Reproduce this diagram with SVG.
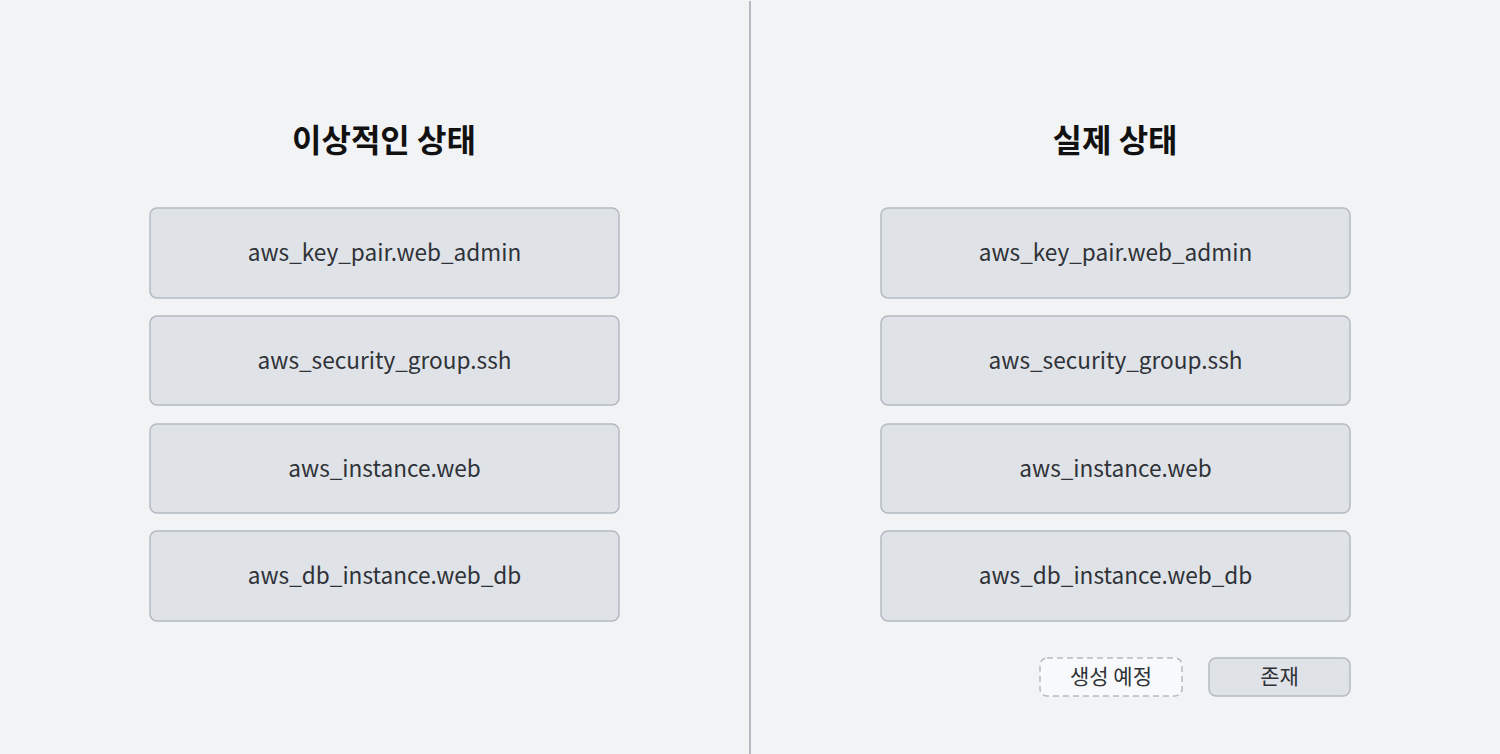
<svg xmlns="http://www.w3.org/2000/svg" width="1500" height="754" viewBox="0 0 1500 754">
<style>
.bg{fill:#f2f3f5}
.node rect{fill:#dfe2e7;stroke:#b3bac2;stroke-width:1.5}
.lbl{font-family:"Noto Sans CJK KR","Noto Sans",sans-serif;font-size:22.6px;fill:#2f3237;text-anchor:middle;dominant-baseline:central}
.title{font-family:"Noto Sans CJK KR",sans-serif;font-size:32px;font-weight:bold;fill:#111;text-anchor:middle}
.leg{font-family:"Noto Sans CJK KR",sans-serif;font-size:21px;fill:#2f3237;text-anchor:middle;dominant-baseline:central}
</style>
<rect class="bg" x="0" y="0" width="1500" height="754"/>
<g id="connectors">
<line x1="750" y1="1" x2="750" y2="754" stroke="#b3bac2" stroke-width="2"/>
</g>
<text class="title" x="384" y="152">이상적인 상태</text>
<text class="title" x="1115" y="152">실제 상태</text>
<g id="l1" class="node"><rect x="150" y="208" width="469" height="90" rx="7"/><text class="lbl" x="384.5" y="251">aws_key_pair.web_admin</text></g>
<g id="l2" class="node"><rect x="150" y="316" width="469" height="89" rx="7"/><text class="lbl" x="384.5" y="359">aws_security_group.ssh</text></g>
<g id="l3" class="node"><rect x="150" y="424" width="469" height="89" rx="7"/><text class="lbl" x="384.5" y="467">aws_instance.web</text></g>
<g id="l4" class="node"><rect x="150" y="531" width="469" height="90" rx="7"/><text class="lbl" x="384.5" y="574">aws_db_instance.web_db</text></g>
<g id="r1" class="node"><rect x="881" y="208" width="469" height="90" rx="7"/><text class="lbl" x="1115.5" y="251">aws_key_pair.web_admin</text></g>
<g id="r2" class="node"><rect x="881" y="316" width="469" height="89" rx="7"/><text class="lbl" x="1115.5" y="359">aws_security_group.ssh</text></g>
<g id="r3" class="node"><rect x="881" y="424" width="469" height="89" rx="7"/><text class="lbl" x="1115.5" y="467">aws_instance.web</text></g>
<g id="r4" class="node"><rect x="881" y="531" width="469" height="90" rx="7"/><text class="lbl" x="1115.5" y="574">aws_db_instance.web_db</text></g>
<g id="legend-planned"><rect x="1040" y="658" width="142" height="38" rx="7" fill="#f8f9fa" stroke="#b3bac2" stroke-width="1.5" stroke-dasharray="6,4"/><text class="leg" x="1111" y="675">생성 예정</text></g>
<g id="legend-exists"><rect x="1209" y="658" width="141" height="38" rx="7" fill="#dfe2e7" stroke="#b3bac2" stroke-width="1.5"/><text class="leg" x="1279.5" y="675">존재</text></g>
</svg>
